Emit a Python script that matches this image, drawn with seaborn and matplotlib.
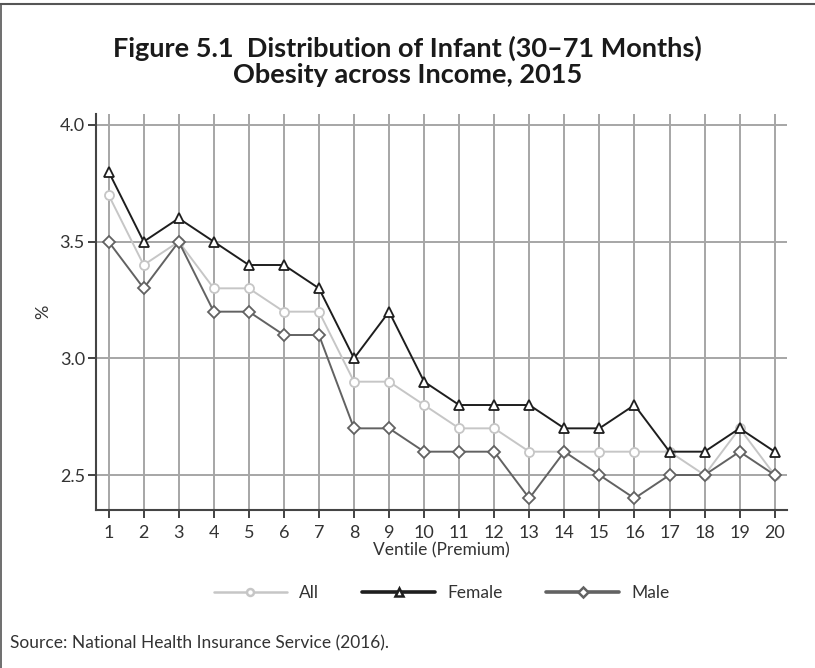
import numpy as np
import pandas as pd
import matplotlib
matplotlib.use("Agg")
import matplotlib.pyplot as plt
from matplotlib.lines import Line2D
import seaborn as sns

ventiles = list(range(1, 21))
all_vals = [3.7, 3.4, 3.5, 3.3, 3.3, 3.2, 3.2, 2.9, 2.9, 2.8, 2.7, 2.7, 2.6, 2.6, 2.6, 2.6, 2.6, 2.5, 2.7, 2.5]
female_vals = [3.8, 3.5, 3.6, 3.5, 3.4, 3.4, 3.3, 3.0, 3.2, 2.9, 2.8, 2.8, 2.8, 2.7, 2.7, 2.8, 2.6, 2.6, 2.7, 2.6]
male_vals = [3.5, 3.3, 3.5, 3.2, 3.2, 3.1, 3.1, 2.7, 2.7, 2.6, 2.6, 2.6, 2.4, 2.6, 2.5, 2.4, 2.5, 2.5, 2.6, 2.5]
series_names = ["All", "Female", "Male"]
y_ticks = [2.5, 3.0, 3.5, 4.0]

df = pd.DataFrame({
    "Ventile": ventiles * 3,
    "Value": all_vals + female_vals + male_vals,
    "Group": [series_names[0]] * 20 + [series_names[1]] * 20 + [series_names[2]] * 20,
})

sns.set_theme(style="white")
plt.rcParams["font.family"] = ["Lato", "DejaVu Sans"]

fig = plt.figure(figsize=(8.15, 6.68), dpi=100)
ax = fig.add_axes([0.1178, 0.2365, 0.9656 - 0.1178, 0.8293 - 0.2365])

palette = {"All": "#c6c6c6", "Female": "#1e1e1e", "Male": "#626262"}
markers = {"All": "o", "Female": "^", "Male": "D"}
msize = {"All": 6.5, "Female": 7.5, "Male": 6.5}
lw_leg = {"All": 1.8, "Female": 2.6, "Male": 2.6}

ax.set_axisbelow(True)
ax.grid(True, color="#a6a6a6", linewidth=1.4)

for name in series_names:
    sub = df[df["Group"] == name]
    sns.lineplot(data=sub, x="Ventile", y="Value", ax=ax, color=palette[name],
                 marker=markers[name], markersize=msize[name], markerfacecolor="white",
                 markeredgecolor=palette[name], markeredgewidth=1.3, linewidth=1.4,
                 label=name, legend=False, zorder=3 if name != "All" else 2)

ax.set_xlim(0.64, 20.35)
ax.set_ylim(2.35, 4.047)
ax.set_xticks(ventiles)
ax.set_yticks(y_ticks)
ax.set_yticklabels([f"{v:.1f}" for v in y_ticks])
ax.tick_params(axis="both", which="both", direction="out", length=6, width=1.3,
               color="#333333", labelsize=13, labelcolor="#333333",
               left=True, bottom=True)
ax.tick_params(axis="x", pad=5)
ax.tick_params(axis="y", pad=2)

for s in ["top", "right"]:
    ax.spines[s].set_visible(False)
for s in ["left", "bottom"]:
    ax.spines[s].set_visible(True)
    ax.spines[s].set_color("#444444")
    ax.spines[s].set_linewidth(1.5)

ax.set_xlabel("Ventile (Premium)", fontsize=12.5, color="#333333", labelpad=1)
ax.set_ylabel("%", fontsize=13, color="#333333", labelpad=6)

handles = [Line2D([0], [0], color=palette[n], marker=markers[n], markersize=msize[n] - 1.5,
                  markerfacecolor="white", markeredgecolor=palette[n], markeredgewidth=1.8,
                  linewidth=lw_leg[n]) for n in series_names]
fig.legend(handles, series_names, loc="center", bbox_to_anchor=(0.542, 0.112), ncol=3,
           frameon=False, handlelength=4.2, handletextpad=0.7, columnspacing=2.5,
           prop={"family": "Lato", "size": 12.5}, labelcolor="#333333")

fig.text(0.5, 0.908, "Figure 5.1  Distribution of Infant (30\u201371 Months)\nObesity across Income, 2015",
         ha="center", va="center", fontsize=19.5, fontweight="bold", color="#1a1a1a",
         linespacing=1.12)
fig.text(0.012, 0.0374, "Source: National Health Insurance Service (2016).", ha="left", va="center",
         fontsize=12.5, color="#333333")

fig.add_artist(Line2D([0, 1], [0.9945, 0.9945], transform=fig.transFigure, color="#555555", linewidth=1.5))
fig.add_artist(Line2D([0.0015, 0.0015], [0, 0.9945], transform=fig.transFigure, color="#555555", linewidth=1.2))

fig.savefig("out.png", dpi=100)
